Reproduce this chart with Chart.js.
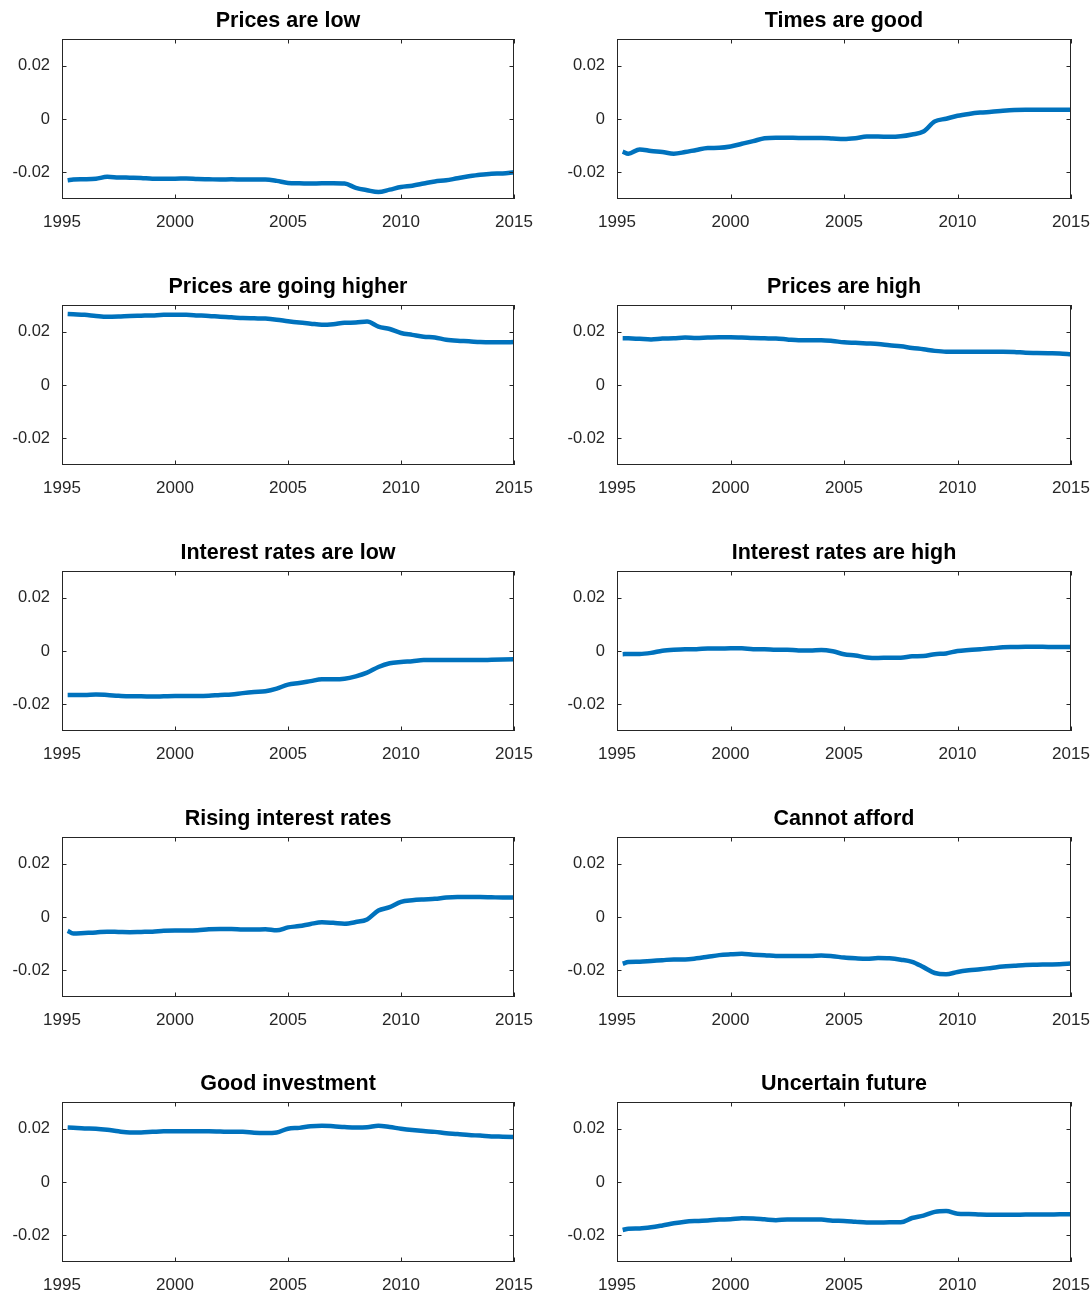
<!DOCTYPE html>
<html>
<head>
<meta charset="utf-8">
<script src="https://cdn.jsdelivr.net/npm/chart.js@4.4.1/dist/chart.umd.min.js"></script>
<style>
  html, body { margin: 0; padding: 0; background: #fff; }
  body { width: 1090px; height: 1297px; position: relative; overflow: hidden; }
  .panel { position: absolute; }
</style>
</head>
<body>
<script>
// sample dates (half-yearly readings)
const years = [1995.25, 1995.5, 1996, 1996.5, 1997, 1997.5, 1998, 1998.5, 1999, 1999.5,
  2000, 2000.5, 2001, 2001.5, 2002, 2002.5, 2003, 2003.5, 2004, 2004.5,
  2005, 2005.5, 2006, 2006.5, 2007, 2007.5, 2008, 2008.5, 2009, 2009.5,
  2010, 2010.5, 2011, 2011.5, 2012, 2012.5, 2013, 2013.5, 2014, 2014.5, 2015];

const pricesLow = [-0.0230, -0.0227, -0.0226, -0.0224, -0.0217, -0.0219, -0.0220, -0.0221, -0.0224, -0.0224,
  -0.0224, -0.0223, -0.0225, -0.0226, -0.0227, -0.0226, -0.0227, -0.0227, -0.0227, -0.0232,
  -0.0240, -0.0241, -0.0242, -0.0241, -0.0241, -0.0242, -0.0258, -0.0267, -0.0274, -0.0265,
  -0.0255, -0.0250, -0.0242, -0.0234, -0.0230, -0.0222, -0.0215, -0.0209, -0.0205, -0.0204, -0.0200];

const timesGood = [-0.0122, -0.0130, -0.0114, -0.0120, -0.0124, -0.0130, -0.0124, -0.0116, -0.0109, -0.0108,
  -0.0103, -0.0093, -0.0083, -0.0072, -0.0070, -0.0070, -0.0071, -0.0071, -0.0071, -0.0073,
  -0.0075, -0.0072, -0.0066, -0.0066, -0.0067, -0.0065, -0.0058, -0.0047, -0.0009, 0.0001,
  0.0012, 0.0019, 0.0024, 0.0027, 0.0031, 0.0034, 0.0035, 0.0035, 0.0035, 0.0035, 0.0035];

const pricesGoingHigher = [0.0266, 0.0265, 0.0263, 0.0259, 0.0256, 0.0257, 0.0259, 0.0260, 0.0261, 0.0263,
  0.0263, 0.0263, 0.0261, 0.0259, 0.0256, 0.0254, 0.0251, 0.0250, 0.0249, 0.0245,
  0.0239, 0.0234, 0.0230, 0.0226, 0.0228, 0.0233, 0.0234, 0.0238, 0.0219, 0.0210,
  0.0195, 0.0188, 0.0181, 0.0178, 0.0170, 0.0166, 0.0164, 0.0161, 0.0160, 0.0160, 0.0161];

const pricesHigh = [0.0175, 0.0175, 0.0173, 0.0171, 0.0174, 0.0175, 0.0178, 0.0176, 0.0178, 0.0179,
  0.0179, 0.0178, 0.0176, 0.0175, 0.0174, 0.0171, 0.0168, 0.0168, 0.0168, 0.0165,
  0.0160, 0.0158, 0.0156, 0.0154, 0.0149, 0.0145, 0.0139, 0.0134, 0.0128, 0.0125,
  0.0125, 0.0125, 0.0125, 0.0125, 0.0125, 0.0124, 0.0121, 0.0120, 0.0119, 0.0118, 0.0115];

const ratesLow = [-0.0165, -0.0165, -0.0165, -0.0163, -0.0165, -0.0168, -0.0170, -0.0170, -0.0171, -0.0170,
  -0.0169, -0.0169, -0.0169, -0.0168, -0.0165, -0.0163, -0.0158, -0.0154, -0.0151, -0.0141,
  -0.0126, -0.0120, -0.0113, -0.0106, -0.0106, -0.0104, -0.0095, -0.0081, -0.0060, -0.0046,
  -0.0041, -0.0038, -0.0034, -0.0034, -0.0034, -0.0034, -0.0034, -0.0034, -0.0033, -0.0032, -0.0031];

const ratesHigh = [-0.0012, -0.0011, -0.0011, -0.0007, 0.0001, 0.0005, 0.0007, 0.0007, 0.0009, 0.0009,
  0.0010, 0.0010, 0.0007, 0.0007, 0.0005, 0.0005, 0.0002, 0.0002, 0.0004, -0.0001,
  -0.0012, -0.0017, -0.0024, -0.0026, -0.0025, -0.0025, -0.0020, -0.0019, -0.0012, -0.0009,
  0.0000, 0.0004, 0.0007, 0.0010, 0.0014, 0.0015, 0.0016, 0.0016, 0.0015, 0.0015, 0.0015];

const risingRates = [-0.0052, -0.0062, -0.0060, -0.0058, -0.0055, -0.0056, -0.0057, -0.0056, -0.0055, -0.0052,
  -0.0051, -0.0051, -0.0050, -0.0046, -0.0045, -0.0045, -0.0047, -0.0047, -0.0046, -0.0050,
  -0.0039, -0.0034, -0.0026, -0.0020, -0.0022, -0.0025, -0.0019, -0.0009, 0.0024, 0.0037,
  0.0057, 0.0063, 0.0066, 0.0068, 0.0073, 0.0075, 0.0075, 0.0075, 0.0074, 0.0073, 0.0073];

const cannotAfford = [-0.0175, -0.0169, -0.0168, -0.0165, -0.0162, -0.0159, -0.0159, -0.0155, -0.0149, -0.0143,
  -0.0140, -0.0138, -0.0142, -0.0143, -0.0146, -0.0146, -0.0146, -0.0146, -0.0144, -0.0147,
  -0.0152, -0.0155, -0.0157, -0.0154, -0.0155, -0.0160, -0.0168, -0.0188, -0.0210, -0.0215,
  -0.0206, -0.0200, -0.0196, -0.0191, -0.0186, -0.0183, -0.0180, -0.0179, -0.0178, -0.0177, -0.0174];

const goodInvestment = [0.0204, 0.0203, 0.0201, 0.0200, 0.0196, 0.0190, 0.0186, 0.0186, 0.0188, 0.0190,
  0.0190, 0.0190, 0.0190, 0.0190, 0.0189, 0.0188, 0.0188, 0.0185, 0.0184, 0.0186,
  0.0200, 0.0203, 0.0209, 0.0211, 0.0209, 0.0206, 0.0204, 0.0205, 0.0211, 0.0206,
  0.0200, 0.0195, 0.0191, 0.0188, 0.0183, 0.0180, 0.0176, 0.0174, 0.0171, 0.0170, 0.0169];

const uncertainFuture = [-0.0180, -0.0175, -0.0174, -0.0170, -0.0163, -0.0155, -0.0149, -0.0146, -0.0144, -0.0141,
  -0.0140, -0.0136, -0.0137, -0.0140, -0.0143, -0.0141, -0.0141, -0.0141, -0.0141, -0.0145,
  -0.0146, -0.0149, -0.0152, -0.0152, -0.0151, -0.0151, -0.0135, -0.0126, -0.0112, -0.0109,
  -0.0119, -0.0120, -0.0122, -0.0123, -0.0123, -0.0123, -0.0122, -0.0122, -0.0122, -0.0121, -0.0121];

const titles = ['Prices are low', 'Times are good', 'Prices are going higher', 'Prices are high',
  'Interest rates are low', 'Interest rates are high', 'Rising interest rates', 'Cannot afford',
  'Good investment', 'Uncertain future'];
const series = [pricesLow, timesGood, pricesGoingHigher, pricesHigh, ratesLow, ratesHigh,
  risingRates, cannotAfford, goodInvestment, uncertainFuture];

const xTicks = [1995, 2000, 2005, 2010, 2015];
const yTicks = [-0.02, 0, 0.02];

// plot box placement (left, width) per column and top per row
const colLeft = [62, 617];
const colWidth = [452, 454];
const rowTop = [39, 305, 571, 837, 1102];
const plotH = 160;
const yAxisW = 62, titleH = 39, xAxisH = 40, padRight = 22;

const FONT = '"Liberation Sans", Arial, Helvetica, sans-serif';
const AXIS = '#262626';

// MATLAB style box with inward ticks on all four sides
const boxPlugin = {
  id: 'box',
  afterDatasetsDraw(chart) {
    const { ctx, chartArea: a, scales } = chart;
    const len = 4.5;
    ctx.save();
    ctx.strokeStyle = AXIS;
    ctx.lineWidth = 1;
    ctx.strokeRect(a.left + 0.5, a.top + 0.5, a.right - a.left - 1, a.bottom - a.top - 1);
    ctx.beginPath();
    xTicks.forEach(t => {
      const x = Math.round(scales.x.getPixelForValue(t)) + 0.5;
      ctx.moveTo(x, a.bottom); ctx.lineTo(x, a.bottom - len);
      ctx.moveTo(x, a.top); ctx.lineTo(x, a.top + len);
    });
    yTicks.forEach(t => {
      const y = Math.round(scales.y.getPixelForValue(t)) + 0.5;
      ctx.moveTo(a.left, y); ctx.lineTo(a.left + len, y);
      ctx.moveTo(a.right, y); ctx.lineTo(a.right - len, y);
    });
    ctx.stroke();
    ctx.restore();
  }
};

series.forEach((vals, i) => {
  const col = i % 2, row = Math.floor(i / 2);
  const div = document.createElement('div');
  div.className = 'panel';
  div.style.left = (colLeft[col] - yAxisW) + 'px';
  div.style.top = (rowTop[row] - titleH) + 'px';
  div.style.width = (yAxisW + colWidth[col] + padRight) + 'px';
  div.style.height = (titleH + plotH + xAxisH) + 'px';
  const canvas = document.createElement('canvas');
  div.appendChild(canvas);
  document.body.appendChild(div);

  new Chart(canvas, {
    type: 'line',
    data: {
      datasets: [{
        data: years.map((y, k) => ({ x: y, y: vals[k] })),
        borderColor: '#0072BD',
        borderWidth: 4.5,
        pointRadius: 0,
        cubicInterpolationMode: 'monotone',
        fill: false
      }]
    },
    options: {
      responsive: true,
      maintainAspectRatio: false,
      animation: false,
      layout: { padding: { left: 0, right: padRight, top: 0, bottom: 0 } },
      plugins: {
        legend: { display: false },
        tooltip: { enabled: false },
        title: {
          display: true,
          fullSize: false,
          text: titles[i],
          color: '#000',
          font: { family: FONT, size: 21.5, weight: 'bold', lineHeight: 1.2 },
          padding: { top: 8.5, bottom: 4.7 }
        }
      },
      scales: {
        x: {
          type: 'linear',
          min: 1995, max: 2015,
          afterFit(s) { s.height = xAxisH; s.paddingLeft = 0; s.paddingRight = 0; },
          afterBuildTicks(s) { s.ticks = xTicks.map(v => ({ value: v })); },
          grid: { display: false, drawTicks: false },
          border: { display: false },
          ticks: {
            color: AXIS, padding: 13, maxRotation: 0,
            font: { family: FONT, size: 17 },
            callback: v => String(v)
          }
        },
        y: {
          min: -0.03, max: 0.03,
          afterFit(s) { s.width = yAxisW; s.paddingTop = 0; s.paddingBottom = 0; },
          afterBuildTicks(s) { s.ticks = yTicks.map(v => ({ value: v })); },
          grid: { display: false, drawTicks: false },
          border: { display: false },
          ticks: {
            color: AXIS, padding: 12,
            font: { family: FONT, size: 16.5 },
            callback: v => (Math.abs(v) < 1e-9 ? '0' : v.toFixed(2))
          }
        }
      }
    },
    plugins: [boxPlugin]
  });
});
</script>
</body>
</html>
